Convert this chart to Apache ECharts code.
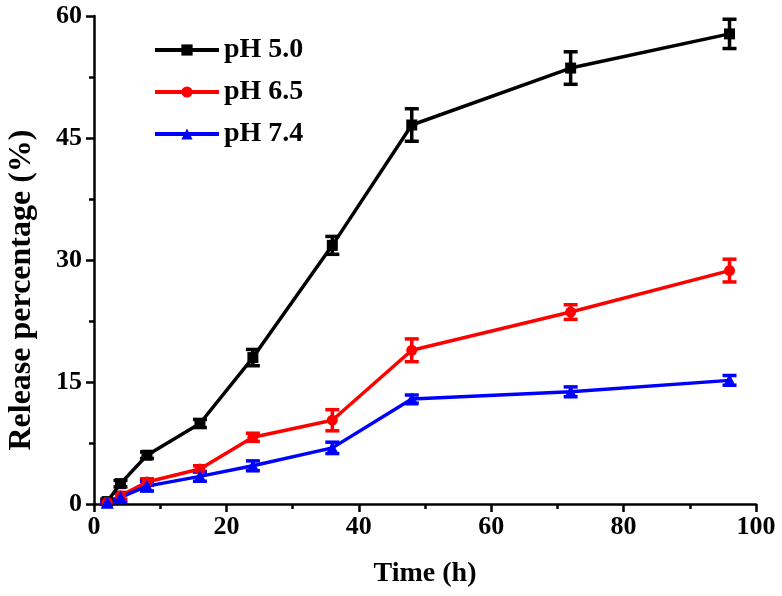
<!DOCTYPE html>
<html>
<head>
<meta charset="utf-8">
<script src="https://cdn.jsdelivr.net/npm/echarts@6/dist/echarts.min.js"></script>
<style>
  html, body { margin: 0; padding: 0; background: #fff; }
  #chart { width: 782px; height: 596px; }
</style>
</head>
<body>
<div id="chart"></div>
<script>
// time points (h)
const time = [2, 4, 8, 16, 24, 36, 48, 72, 96]
// release percentage and error for each pH
const ph50 = [0.3, 2.5, 6.0, 9.9, 18.0, 31.8, 46.6, 53.6, 57.8]
const ph50Err = [0.3, 0.4, 0.4, 0.5, 1.0, 1.1, 2.0, 2.0, 1.8]
const ph65 = [0.2, 1.0, 2.7, 4.3, 8.2, 10.3, 18.9, 23.6, 28.7]
const ph65Err = [0.2, 0.4, 0.4, 0.4, 0.5, 1.3, 1.4, 0.9, 1.4]
const ph74 = [0.2, 0.8, 2.2, 3.4, 4.7, 6.9, 12.9, 13.8, 15.2]
const ph74Err = [0.2, 0.6, 0.6, 0.6, 0.6, 0.7, 0.5, 0.6, 0.6]

const xTicks = [0, 20, 40, 60, 80, 100]
const yTicks = [0, 15, 30, 45, 60]

const font = 'Liberation Serif'

const toLine = (vals) => time.map((t, i) => [t, vals[i]])
const toErr = (vals, errs) => time.map((t, i) => [t, vals[i] - errs[i], vals[i] + errs[i]])

// 误差棒
const errorSeries = (name, color, vals, errs) => ({
  name,
  type: 'custom',
  z: 3,
  color,
  data: toErr(vals, errs),
  renderItem: (params, api) => {
    const lo = api.coord([api.value(0), api.value(1)])
    const hi = api.coord([api.value(0), api.value(2)])
    const w = 7
    const style = { stroke: color, lineWidth: 3.5 }
    return {
      type: 'group',
      children: [
        { type: 'line', shape: { x1: lo[0], y1: lo[1], x2: hi[0], y2: hi[1] }, style },
        { type: 'line', shape: { x1: lo[0] - w, y1: lo[1], x2: lo[0] + w, y2: lo[1] }, style },
        { type: 'line', shape: { x1: hi[0] - w, y1: hi[1], x2: hi[0] + w, y2: hi[1] }, style }
      ]
    }
  }
})

const lineSeries = (name, color, symbol, vals) => ({
  name,
  type: 'line',
  color,
  data: toLine(vals),
  symbol,
  symbolSize: symbol === 'triangle' ? 13 : 11,
  showAllSymbol: true,
  z: 4,
  lineStyle: { color, width: 3.5 },
  itemStyle: { color },
  emphasis: { disabled: true }
})

const axisStyle = {
  axisLine: { show: true, lineStyle: { color: '#000', width: 2.5 } },
  axisTick: { show: true, inside: false, length: 8, lineStyle: { color: '#000', width: 2.5 } },
  minorTick: { show: true, splitNumber: 2, length: 5, lineStyle: { color: '#000', width: 2.5 } },
  splitLine: { show: false }
}

const chart = echarts.init(document.getElementById('chart'))
chart.setOption({
  animation: false,
  backgroundColor: '#fff',
  grid: { left: 94, right: 26, top: 16, bottom: 92, outerBoundsMode: 'none', containLabel: false },
  legend: {
    orient: 'vertical',
    left: 148,
    top: 30,
    itemWidth: 64,
    itemHeight: 14,
    itemGap: 12,
    lineStyle: { width: 4 },
    textStyle: { fontFamily: font, fontWeight: 'bold', fontSize: 28, lineHeight: 30, color: '#000' },
    data: ['pH 5.0', 'pH 6.5', 'pH 7.4']
  },
  xAxis: {
    type: 'value',
    min: 0,
    max: 100,
    interval: 20,
    name: 'Time (h)',
    nameLocation: 'middle',
    nameGap: 56,
    nameTextStyle: { fontFamily: font, fontWeight: 'bold', fontSize: 28, color: '#000' },
    ...axisStyle,
    axisLabel: {
      fontFamily: font, fontWeight: 'bold', fontSize: 26, color: '#000', margin: 10,
      formatter: (v) => (xTicks.includes(v) ? String(v) : '')
    }
  },
  yAxis: {
    type: 'value',
    min: 0,
    max: 60,
    interval: 15,
    name: 'Release percentage (%)',
    nameLocation: 'middle',
    nameGap: 56,
    nameTextStyle: {
      fontFamily: font, fontWeight: 'bold', fontSize: 32, color: '#000',
      padding: [0, 60, 0, 0]
    },
    ...axisStyle,
    axisLabel: {
      fontFamily: font, fontWeight: 'bold', fontSize: 26, color: '#000', margin: 12,
      formatter: (v) => (yTicks.includes(v) ? String(v) : '')
    }
  },
  series: [
    lineSeries('pH 5.0', '#000', 'rect', ph50),
    lineSeries('pH 6.5', '#ff0000', 'circle', ph65),
    lineSeries('pH 7.4', '#0000ff', 'triangle', ph74),
    errorSeries('pH 5.0', '#000', ph50, ph50Err),
    errorSeries('pH 6.5', '#ff0000', ph65, ph65Err),
    errorSeries('pH 7.4', '#0000ff', ph74, ph74Err)
  ]
})
</script>
</body>
</html>
